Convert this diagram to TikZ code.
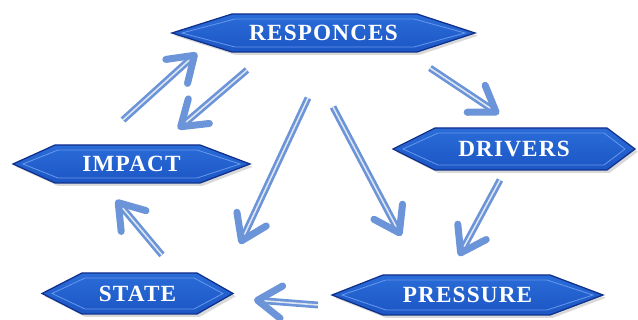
\documentclass[tikz,border=0pt]{standalone}
\usepackage{fontspec}
\setmainfont{Liberation Serif}
\newfontfamily\boxfont[LetterSpace=5]{Liberation Serif}
\usepackage{tikz}
\usetikzlibrary{arrows.meta,shadows}
\definecolor{boxblue}{RGB}{28,86,196}
\definecolor{boxtop}{RGB}{42,108,216}
\definecolor{boxedge}{RGB}{16,48,140}
\definecolor{boxbevel}{RGB}{100,150,235}
\definecolor{flowblue}{RGB}{108,148,216}
\definecolor{flowlight}{RGB}{222,230,242}

\tikzset{
  hexbox/.style={draw=boxedge,line width=0.9pt,top color=boxtop,bottom color=boxblue,
    drop shadow={opacity=0.3,shadow xshift=2pt,shadow yshift=-2pt}},
  hexbevel/.style={draw=boxbevel,line width=0.6pt},
  boxtext/.style={text=white,font=\boxfont\fontsize{16.5}{19}\bfseries},
  flow/.style={draw=flowblue,line width=1.9pt,double=flowlight,double distance=1.1pt,
    -{Straight Barb[length=17pt,width=23pt,line width=5pt,round]}}
}

\begin{document}
\begin{tikzpicture}[x=0.025cm,y=-0.025cm]
  \useasboundingbox (0,0) rectangle (638,320);
  % boxes
  \foreach \n/\xl/\xa/\xb/\xr/\yt/\yb/\t in {
      resp/172/232/417/475/14/52/RESPONCES,
      impact/13/55/200/250/145/183/IMPACT,
      drivers/393/435/607/635/128/170/DRIVERS,
      state/42/82/197/233/273/314/STATE,
      pressure/332/383/550/603/275/315/PRESSURE}
  {
    \path[hexbox] (\xl,{(\yt+\yb)/2}) -- (\xa,\yt) -- (\xb,\yt) -- (\xr,{(\yt+\yb)/2})
      -- (\xb,\yb) -- (\xa,\yb) -- cycle;
    \draw[hexbevel] ({\xl+10},{(\yt+\yb)/2}) -- ({\xa+3},{\yt+5}) -- ({\xb-3},{\yt+5})
      -- ({\xr-10},{(\yt+\yb)/2}) -- ({\xb-3},{\yb-5}) -- ({\xa+3},{\yb-5}) -- cycle;
    \node[boxtext] (\n) at ({(\xl+\xr)/2},{(\yt+\yb)/2}) {\t};
  }
  % arrow ends
  \coordinate (impact-up)   at (123,120);
  \coordinate (resp-left)   at (197,53);
  \coordinate (resp-back)   at (247,70);
  \coordinate (impact-in)   at (178,129);
  \coordinate (resp-mid1)   at (308,98);
  \coordinate (state-top)   at (240,244);
  \coordinate (resp-mid2)   at (333,107);
  \coordinate (press-top)   at (401,236);
  \coordinate (resp-right)  at (430,68);
  \coordinate (drivers-in)  at (499,114);
  \coordinate (drivers-out) at (500,180);
  \coordinate (press-in)    at (459,256);
  \coordinate (press-out)   at (318,305);
  \coordinate (state-in)    at (254,300);
  \coordinate (state-up)    at (162,255);
  \coordinate (impact-low)  at (116,200);
  % flows
  \draw[flow] (impact-up) -- (resp-left);
  \draw[flow] (resp-back) -- (impact-in);
  \draw[flow] (resp-mid1) -- (state-top);
  \draw[flow] (resp-mid2) -- (press-top);
  \draw[flow] (resp-right) -- (drivers-in);
  \draw[flow] (drivers-out) -- (press-in);
  \draw[flow] (press-out) -- (state-in);
  \draw[flow] (state-up) -- (impact-low);
\end{tikzpicture}
\end{document}
